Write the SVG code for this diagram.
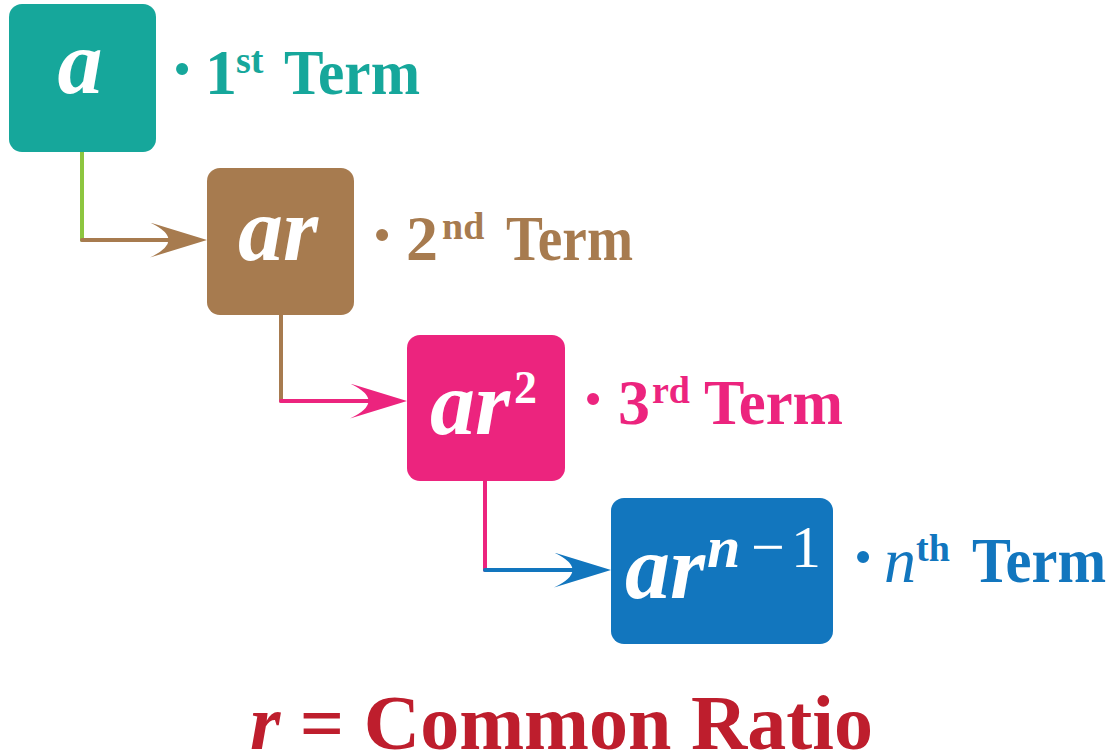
<svg xmlns="http://www.w3.org/2000/svg" width="1112" height="756" viewBox="0 0 1112 756">
<style>
.box{stroke:none}
.bt{font-family:"Liberation Serif","Times New Roman",serif;font-weight:bold;font-style:italic;font-size:90px;fill:#fff}
.up{font-style:normal}
.reg{font-weight:normal;font-style:normal}
.lbl{font-family:"Liberation Serif","Times New Roman",serif;font-weight:bold;font-size:64px}
.dot{font-size:74px}
.sup{font-size:38px}
.it{font-style:italic;font-weight:normal}
.ln{fill:none;stroke-width:4;stroke-linecap:round}
.title{font-family:"Liberation Serif","Times New Roman",serif;font-weight:bold;font-size:78px;fill:#BE1E2D}
</style>
<defs>
<marker id="ah-brown" viewBox="0 0 57 35" refX="27" refY="17.5" markerWidth="57" markerHeight="35" markerUnits="userSpaceOnUse" orient="auto"><path d="M57,17.5 L0,0 Q37,17.5 0,35 Z" fill="#A77B4F"/></marker>
<marker id="ah-pink" viewBox="0 0 57 35" refX="27" refY="17.5" markerWidth="57" markerHeight="35" markerUnits="userSpaceOnUse" orient="auto"><path d="M57,17.5 L0,0 Q37,17.5 0,35 Z" fill="#EC247E"/></marker>
<marker id="ah-blue" viewBox="0 0 57 35" refX="27" refY="17.5" markerWidth="57" markerHeight="35" markerUnits="userSpaceOnUse" orient="auto"><path d="M57,17.5 L0,0 Q37,17.5 0,35 Z" fill="#1276BE"/></marker>
</defs>

<g id="connectors">
<path class="ln" d="M82,152 V240" stroke="#8DC63F"/>
<path class="ln" d="M82,240 H177" stroke="#A77B4F" marker-end="url(#ah-brown)"/>
<path class="ln" d="M281,315 V401" stroke="#A77B4F"/>
<path class="ln" d="M281,401 H377" stroke="#EC247E" marker-end="url(#ah-pink)"/>
<path class="ln" d="M485,481 V570" stroke="#EC247E"/>
<path class="ln" d="M485,570 H581" stroke="#1276BE" marker-end="url(#ah-blue)"/>
</g>

<g id="term1">
<rect class="box" x="9" y="4" width="147" height="148" rx="13" fill="#16A79B"/>
<text class="bt" x="80" y="93" text-anchor="middle">a</text>
<text class="lbl" y="94" fill="#16A79B"><tspan class="dot" x="182" text-anchor="middle">·</tspan><tspan x="205">1</tspan><tspan class="sup" x="236" y="73">st</tspan><tspan x="284" y="94" textLength="136" lengthAdjust="spacingAndGlyphs">Term</tspan></text>
</g>

<g id="term2">
<rect class="box" x="207" y="168" width="147" height="147" rx="13" fill="#A77B4F"/>
<text class="bt" x="238" y="260">ar</text>
<text class="lbl" y="260" fill="#A77B4F"><tspan class="dot" x="382" text-anchor="middle">·</tspan><tspan x="406">2</tspan><tspan class="sup" x="442" y="239">nd</tspan><tspan x="506" y="260" textLength="127" lengthAdjust="spacingAndGlyphs">Term</tspan></text>
</g>

<g id="term3">
<rect class="box" x="407" y="335" width="158" height="146" rx="13" fill="#EC247E"/>
<text class="bt" x="430" y="434">ar<tspan class="up" x="514" y="403" font-size="46">2</tspan></text>
<text class="lbl" y="424" fill="#EC247E"><tspan class="dot" x="593" text-anchor="middle">·</tspan><tspan x="618">3</tspan><tspan class="sup" x="652" y="403">rd</tspan><tspan x="704" y="424" textLength="139" lengthAdjust="spacingAndGlyphs">Term</tspan></text>
</g>

<g id="term4">
<rect class="box" x="611" y="498" width="222" height="146" rx="13" fill="#1276BE"/>
<text class="bt" x="625" y="598">ar<tspan x="707" y="567" font-size="60">n</tspan><tspan class="reg" x="751" y="567" font-size="60">−</tspan><tspan class="reg" x="791" y="567" font-size="60">1</tspan></text>
<text class="lbl" y="582" fill="#1276BE"><tspan class="dot" x="863" text-anchor="middle">·</tspan><tspan class="it" x="884">n</tspan><tspan class="sup" x="916" y="561">th</tspan><tspan x="972" y="582" textLength="134" lengthAdjust="spacingAndGlyphs">Term</tspan></text>
</g>

<g id="title">
<text class="title" x="250" y="749"><tspan font-style="italic">r</tspan> = Common Ratio</text>
</g>
</svg>
